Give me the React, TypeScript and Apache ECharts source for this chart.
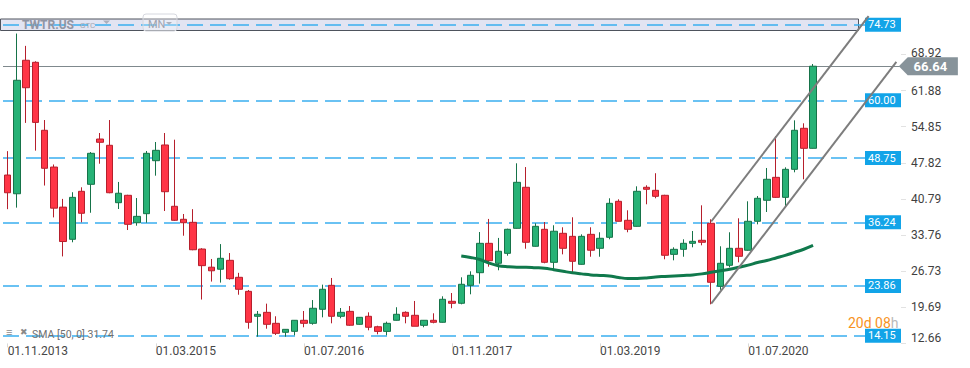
import React, { useEffect, useRef } from "react";
import * as echarts from "echarts";

// ---- categories (monthly, Nov 2013 onwards, incl. empty future months) ----
const START_YEAR = 2013;
const START_MONTH = 11;
const MONTH_COUNT = 97;
const categories: string[] = Array.from({ length: MONTH_COUNT }, (_, i) => {
  const m = ((START_MONTH - 1 + i) % 12) + 1;
  const y = START_YEAR + Math.floor((START_MONTH - 1 + i) / 12);
  return `01.${String(m).padStart(2, "0")}.${y}`;
});

// ---- OHLC (TWTR.US monthly) ----
const opens = [
  45.45, 41.8, 67.8, 67.4, 54.16, 47.0, 39.2, 32.93, 42.28, 43.64,
  52.46, 51.24, 40.06, 41.5, 36.16, 37.92, 48.24, 51.3, 39.36, 36.83,
  36.24, 31.04, 27.5, 27.1, 28.84, 25.53, 22.8, 17.94, 18.71, 16.57,
  14.82, 15.01, 17.16, 16.57, 19.3, 23.97, 17.94, 18.9, 16.38, 17.94,
  15.9, 15.0, 17.16, 18.71, 18.13, 16.18, 17.16, 16.77, 20.86, 20.47,
  23.97, 26.43, 32.15, 28.26, 30.2, 35.07, 43.06, 31.57, 34.88, 28.45,
  34.1, 33.51, 28.06, 33.9, 31.18, 33.32, 40.33, 36.63, 35.46, 43.06,
  42.47, 41.5, 30.0, 30.98, 32.15, 32.74, 36.05, 23.78, 27.87, 31.18,
  30.8, 36.44, 40.53, 45.0, 41.1, 46.56, 54.55, 50.65,
];
const closes = [
  42.0, 63.9, 62.45, 55.7, 46.76, 39.0, 32.5, 41.1, 38.0, 49.68,
  51.82, 42.0, 41.9, 35.85, 37.4, 49.68, 50.26, 42.2, 36.63, 36.16,
  30.9, 27.8, 26.8, 29.23, 25.26, 23.2, 16.77, 18.33, 16.38, 14.62,
  15.4, 17.16, 16.57, 19.5, 23.2, 17.94, 18.71, 16.2, 17.74, 15.8,
  15.0, 16.57, 18.33, 17.94, 16.0, 17.16, 16.77, 21.25, 20.47, 24.17,
  25.92, 32.15, 28.76, 30.6, 34.88, 44.03, 32.35, 35.46, 28.45, 34.5,
  31.18, 28.65, 33.51, 30.8, 33.13, 39.94, 36.44, 34.88, 42.28, 42.67,
  41.3, 29.82, 30.98, 32.15, 32.54, 32.35, 24.56, 28.26, 31.18, 29.62,
  36.44, 40.92, 44.62, 41.1, 46.56, 54.16, 50.65, 66.64,
];
const lows = [
  38.8, 39.1, 55.6, 50.2, 43.4, 37.2, 29.6, 32.35, 36.24, 38.1,
  47.65, 41.9, 38.83, 34.74, 35.58, 36.16, 45.32, 38.44, 36.5, 33.63,
  30.8, 21.2, 24.7, 24.5, 25.06, 22.14, 15.52, 13.96, 15.52, 14.3,
  13.96, 14.24, 15.8, 16.3, 17.74, 16.57, 17.55, 16.1, 16.3, 15.21,
  14.43, 14.24, 17.1, 16.57, 16.0, 15.8, 16.57, 16.7, 19.5, 20.27,
  22.22, 24.3, 27.6, 26.9, 29.74, 35.0, 31.1, 31.5, 28.26, 26.9,
  30.0, 26.5, 28.0, 29.54, 29.54, 32.93, 36.4, 34.3, 35.4, 39.75,
  40.92, 29.04, 28.84, 29.54, 31.37, 31.76, 20.27, 23.1, 27.48, 28.45,
  30.7, 35.85, 38.25, 41.0, 39.36, 45.98, 44.62, 50.6,
];
const highs = [
  50.1, 73.0, 70.6, 67.6, 56.16, 47.5, 40.8, 42.1, 43.06, 49.93,
  53.63, 56.16, 44.1, 41.6, 40.97, 50.13, 51.88, 53.63, 52.33, 37.86,
  38.8, 31.2, 29.1, 32.0, 30.26, 26.4, 23.06, 18.97, 20.4, 17.94,
  15.45, 17.2, 18.97, 21.1, 24.1, 25.4, 19.55, 19.94, 17.8, 18.71,
  16.1, 16.9, 19.7, 18.9, 20.92, 17.2, 18.52, 21.83, 22.47, 25.53,
  26.7, 34.35, 36.9, 33.2, 35.0, 47.73, 47.0, 36.05, 36.3, 35.66,
  35.27, 37.22, 33.9, 35.27, 34.3, 40.92, 40.72, 38.58, 43.25, 43.45,
  45.8, 41.6, 31.37, 32.93, 34.55, 39.55, 36.83, 31.57, 34.3, 37.02,
  40.33, 41.36, 46.82, 53.0, 46.95, 56.1, 55.52, 67.07,
];

// ---- SMA(50) values, starting at month index 49 ----
const smaStart = 49;
const smaValues = [
  29.7, 29.4, 29.0, 28.3, 27.8, 27.6, 27.5, 27.5, 27.4, 27.3,
  27.0, 26.7, 26.4, 26.2, 26.0, 25.9, 25.8, 25.5, 25.3, 25.3,
  25.4, 25.6, 25.7, 25.8, 25.9, 26.0, 26.2, 26.5, 26.8, 27.1,
  27.5, 27.9, 28.4, 28.8, 29.3, 29.8, 30.4, 31.0, 31.74,
];

// ---- levels and axis ticks ----
const levels = [74.73, 60.0, 48.75, 36.24, 23.86, 14.15];
const lastPrice = 66.64;
const yTickValues = [12.66, 19.69, 26.73, 33.76, 40.79, 47.82, 54.85, 61.88, 68.92];
const xLabelEvery = 16;
const xLastLabelIndex = 80;

// ---- trend channel (month index, price) ----
const upperChannel = [[76, 36.4], [93, 76.4]];
const lowerChannel = [[76, 20.4], [96, 67.5]];

const FONT = "Roboto, 'Noto Sans', sans-serif";

export default function App() {
  const ref = useRef<HTMLDivElement>(null);

  useEffect(() => {
    if (!ref.current) return;
    const chart = echarts.init(ref.current, undefined, { renderer: "svg" });

    const candleData = opens.map((o, i) => [o, closes[i], lows[i], highs[i]]);
    const smaData = categories.map((_, i) =>
      i >= smaStart && i < smaStart + smaValues.length ? smaValues[i - smaStart] : null
    );
    const showX = (index: number) => index % xLabelEvery === 0 && index <= xLastLabelIndex;

    const levelLines = levels.map((v) => ({
      yAxis: v,
      lineStyle: { color: "#3aaef0", width: 1.5, type: [16, 7] as any },
      label: {
        show: true,
        position: "end",
        distance: [-36, 0],
        formatter: v.toFixed(2),
        backgroundColor: "#12a4e8",
        color: "#ffffff",
        fontSize: 11,
        fontFamily: FONT,
        padding: [1, 3, 1, 3],
        width: 30,
        lineHeight: 12,
      },
    }));

    const topTick = yTickValues[yTickValues.length - 1];

    const option: any = {
      animation: false,
      backgroundColor: "#ffffff",
      textStyle: { fontFamily: FONT },
      grid: { left: 3, right: 69, top: 0, bottom: 24.6 },
      xAxis: {
        type: "category",
        data: categories,
        boundaryGap: true,
        axisLine: { show: false },
        axisTick: {
          show: true,
          interval: showX,
          alignWithLabel: true,
          length: 4,
          lineStyle: { color: "#d9d9d9" },
        },
        axisLabel: {
          interval: showX,
          align: "left",
          color: "#474747",
          fontSize: 12,
          fontFamily: FONT,
          margin: 2,
        },
        splitLine: { show: false },
      },
      yAxis: {
        type: "value",
        position: "right",
        min: 12.66,
        max: 79.533,
        axisLine: { show: false },
        axisTick: {
          show: true,
          customValues: yTickValues,
          length: 5,
          lineStyle: { color: "#e2e2e2" },
        },
        axisLabel: {
          customValues: yTickValues,
          color: "#3f3f3f",
          fontSize: 12,
          lineHeight: 12,
          fontFamily: FONT,
          margin: 10,
          formatter: (v: number) => {
            if (Math.abs(v - yTickValues[0]) < 1e-6) return `{low|${v.toFixed(2)}}`;
            if (Math.abs(v - topTick) < 1e-6) return `{top|${v.toFixed(2)}}`;
            return v.toFixed(2);
          },
          rich: {
            low: { padding: [0, 0, 11, 0], fontSize: 12, lineHeight: 12, color: "#3f3f3f", fontFamily: FONT },
            top: { padding: [0, 0, 3, 0], fontSize: 12, lineHeight: 12, color: "#3f3f3f", fontFamily: FONT },
          },
        },
        splitLine: { show: false },
      },
      series: [
        {
          type: "candlestick",
          data: candleData,
          barWidth: 7,
          z: 3,
          itemStyle: {
            color: "#27b276",
            color0: "#ff3546",
            borderColor: "#167349",
            borderColor0: "#b61f2c",
            borderWidth: 1,
          },
          markLine: {
            silent: true,
            symbol: ["none", "none"],
            animation: false,
            z: 2,
            data: [
              ...levelLines,
              {
                yAxis: lastPrice,
                lineStyle: { color: "#7f898d", width: 1, type: "solid" },
                label: { show: false },
              },
            ],
          },
          markPoint: {
            silent: true,
            animation: false,
            data: [
              {
                coord: [MONTH_COUNT - 1, lastPrice],
                symbol: "path://M0,9L9,0L60,0L60,18L9,18Z",
                symbolSize: [59, 18],
                symbolOffset: [32, 0],
                itemStyle: { color: "#87939a" },
                label: {
                  show: true,
                  formatter: lastPrice.toFixed(2),
                  color: "#ffffff",
                  fontWeight: "bold",
                  fontSize: 13,
                  lineHeight: 12,
                  fontFamily: FONT,
                  offset: [2, 0],
                },
              },
            ],
          },
        },
        {
          type: "line",
          data: smaData,
          symbol: "none",
          smooth: 0.4,
          z: 4,
          lineStyle: { color: "#10794c", width: 3 },
        },
        {
          type: "line",
          data: upperChannel,
          symbol: "none",
          z: 4,
          lineStyle: { color: "#7d7d7d", width: 2 },
        },
        {
          type: "line",
          data: lowerChannel,
          symbol: "none",
          z: 4,
          lineStyle: { color: "#7d7d7d", width: 2 },
        },
      ],
      graphic: [
        {
          type: "rect",
          z: 1,
          shape: { x: 0.5, y: 19, width: 858, height: 11.5 },
          style: { fill: "#e2e4f2", stroke: "#4e535d", lineWidth: 1 },
        },
        {
          type: "text",
          z: 20,
          x: 22,
          y: 25,
          style: {
            text: "TWTR.US",
            fill: "#9095a4",
            font: `bold 12px ${FONT}`,
            verticalAlign: "middle",
          },
        },
        {
          type: "text",
          z: 20,
          x: 80,
          y: 25,
          style: { text: "GTC", fill: "#a3a7b3", font: `8px ${FONT}`, verticalAlign: "middle" },
        },
        {
          type: "polygon",
          z: 20,
          shape: { points: [[103, 20.5], [110, 20.5], [106.5, 24]] },
          style: { fill: "#abafbb" },
        },
        {
          type: "rect",
          z: 20,
          shape: { x: 143, y: 14, width: 34, height: 17, r: 3 },
          style: { fill: "rgba(255,255,255,0.25)", stroke: "#d6d8df", lineWidth: 1 },
        },
        {
          type: "text",
          z: 21,
          x: 148,
          y: 24.5,
          style: { text: "MN", fill: "#9da2ae", font: `11px ${FONT}`, verticalAlign: "middle" },
        },
        {
          type: "polygon",
          z: 21,
          shape: { points: [[166, 22], [172, 22], [169, 25]] },
          style: { fill: "#abafbb" },
        },
        {
          type: "text",
          z: 20,
          x: 6,
          y: 332,
          style: { text: "≡", fill: "#8a8a8a", font: `11px ${FONT}`, verticalAlign: "middle" },
        },
        {
          type: "text",
          z: 20,
          x: 20,
          y: 332,
          style: { text: "✖", fill: "#8a8a8a", font: `9px ${FONT}`, verticalAlign: "middle" },
        },
        {
          type: "text",
          z: 20,
          x: 32,
          y: 334,
          style: {
            text: "SMA [50, 0] 31.74",
            fill: "#6f6f6f",
            font: `10.5px ${FONT}`,
            verticalAlign: "middle",
          },
        },
        {
          type: "text",
          z: 20,
          x: 848,
          y: 322.5,
          style: {
            text: "{o|20d 08}{g|h}",
            verticalAlign: "middle",
            font: `14px ${FONT}`,
            rich: {
              o: { fill: "#f7931e", fontSize: 14, fontFamily: FONT },
              g: { fill: "#b9b9b9", fontSize: 14, fontFamily: FONT },
            },
          },
        },
      ],
    };

    chart.setOption(option);
    return () => chart.dispose();
  }, []);

  return (
    <div
      ref={ref}
      style={{ position: "fixed", left: 0, top: 0, width: 970, height: 368, background: "#fff" }}
    />
  );
}
